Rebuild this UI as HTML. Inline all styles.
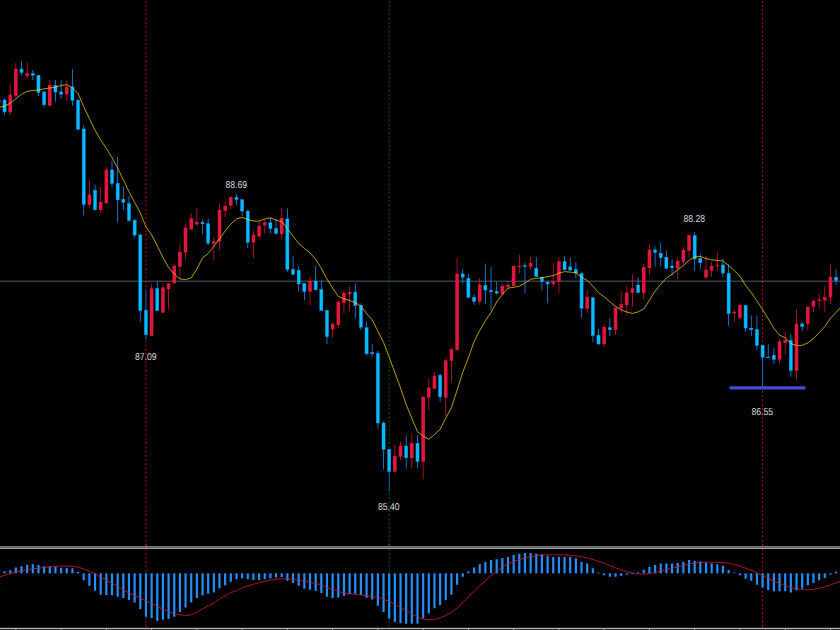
<!DOCTYPE html>
<html><head><meta charset="utf-8"><title>Chart</title>
<style>html,body{margin:0;padding:0;background:#000;width:840px;height:630px;overflow:hidden}svg{display:block}</style>
</head><body>
<svg width="840" height="630" viewBox="0 0 840 630"><rect x="0" y="280.5" width="840" height="1.5" fill="#353d46"/>
<text x="225.55" y="188" textLength="21.6" lengthAdjust="spacingAndGlyphs" text-rendering="geometricPrecision" font-family="Liberation Sans, sans-serif" font-size="10" fill="#dcdcdc">88.69</text>
<text x="134.9" y="360" textLength="21.6" lengthAdjust="spacingAndGlyphs" text-rendering="geometricPrecision" font-family="Liberation Sans, sans-serif" font-size="10" fill="#dcdcdc">87.09</text>
<text x="378" y="510" textLength="21.6" lengthAdjust="spacingAndGlyphs" text-rendering="geometricPrecision" font-family="Liberation Sans, sans-serif" font-size="10" fill="#dcdcdc">85.40</text>
<text x="683.5" y="222" textLength="21.6" lengthAdjust="spacingAndGlyphs" text-rendering="geometricPrecision" font-family="Liberation Sans, sans-serif" font-size="10" fill="#dcdcdc">88.28</text>
<text x="751.4" y="415" textLength="21.6" lengthAdjust="spacingAndGlyphs" text-rendering="geometricPrecision" font-family="Liberation Sans, sans-serif" font-size="10" fill="#dcdcdc">86.55</text>
<line x1="145.96" y1="-3.54" x2="145.96" y2="289.7" stroke="#ff0000" stroke-width="0.75" stroke-dasharray="2.1213 2.1213" stroke-dashoffset="0"/><line x1="145.96" y1="339.2" x2="145.96" y2="546" stroke="#ff0000" stroke-width="0.75" stroke-dasharray="2.1213 2.1213" stroke-dashoffset="3.33"/><line x1="145.96" y1="544.26" x2="145.96" y2="627.6" stroke="#ff0000" stroke-width="0.75" stroke-dasharray="2.1213 2.1213" stroke-dashoffset="0"/>
<line x1="389.21" y1="-3.54" x2="389.21" y2="449" stroke="#008000" stroke-width="0.75" stroke-dasharray="2.1213 2.1213" stroke-dashoffset="0"/><line x1="389.21" y1="491.3" x2="389.21" y2="546" stroke="#008000" stroke-width="0.75" stroke-dasharray="2.1213 2.1213" stroke-dashoffset="2.69"/><line x1="389.21" y1="544.26" x2="389.21" y2="627.6" stroke="#008000" stroke-width="0.75" stroke-dasharray="2.1213 2.1213" stroke-dashoffset="0"/>
<line x1="762.57" y1="-3.54" x2="762.57" y2="344.7" stroke="#ff0000" stroke-width="0.75" stroke-dasharray="2.1213 2.1213" stroke-dashoffset="0"/><line x1="762.57" y1="386.3" x2="762.57" y2="546" stroke="#ff0000" stroke-width="0.75" stroke-dasharray="2.1213 2.1213" stroke-dashoffset="3.76"/><line x1="762.57" y1="544.26" x2="762.57" y2="627.6" stroke="#ff0000" stroke-width="0.75" stroke-dasharray="2.1213 2.1213" stroke-dashoffset="0"/>
<rect x="-1.5" y="97.5" width="0.75" height="7" fill="#dc143c"/>
<rect x="4.16" y="98.3" width="0.75" height="16.5" fill="#1e90ff"/>
<rect x="9.81" y="83.3" width="0.75" height="31.8" fill="#dc143c"/>
<rect x="15.47" y="62.8" width="0.75" height="34.7" fill="#dc143c"/>
<rect x="21.13" y="61.1" width="0.75" height="14.5" fill="#1e90ff"/>
<rect x="26.78" y="62.8" width="0.75" height="16.1" fill="#dc143c"/>
<rect x="32.44" y="70" width="0.75" height="10" fill="#1e90ff"/>
<rect x="38.1" y="75" width="0.75" height="21.1" fill="#1e90ff"/>
<rect x="43.75" y="91" width="0.75" height="16.2" fill="#1e90ff"/>
<rect x="49.41" y="80" width="0.75" height="26.7" fill="#dc143c"/>
<rect x="55.07" y="80" width="0.75" height="21.7" fill="#1e90ff"/>
<rect x="60.73" y="80.6" width="0.75" height="18.3" fill="#1e90ff"/>
<rect x="66.38" y="80.6" width="0.75" height="20" fill="#dc143c"/>
<rect x="72.04" y="68.9" width="0.75" height="36.9" fill="#1e90ff"/>
<rect x="77.7" y="98.3" width="0.75" height="31.2" fill="#1e90ff"/>
<rect x="83.35" y="125.3" width="0.75" height="90" fill="#1e90ff"/>
<rect x="89.01" y="179.5" width="0.75" height="28.8" fill="#dc143c"/>
<rect x="94.67" y="184.5" width="0.75" height="26" fill="#1e90ff"/>
<rect x="100.32" y="187" width="0.75" height="25.5" fill="#dc143c"/>
<rect x="105.98" y="167" width="0.75" height="37.2" fill="#dc143c"/>
<rect x="111.64" y="160.8" width="0.75" height="25.9" fill="#1e90ff"/>
<rect x="117.3" y="157" width="0.75" height="65.5" fill="#1e90ff"/>
<rect x="122.95" y="186.5" width="0.75" height="23.5" fill="#1e90ff"/>
<rect x="128.61" y="195.8" width="0.75" height="25.7" fill="#1e90ff"/>
<rect x="134.27" y="219" width="0.75" height="18.5" fill="#1e90ff"/>
<rect x="139.92" y="234" width="0.75" height="87.7" fill="#1e90ff"/>
<rect x="145.58" y="289.7" width="0.75" height="49.5" fill="#1e90ff"/>
<rect x="151.24" y="284.2" width="0.75" height="51.8" fill="#dc143c"/>
<rect x="156.89" y="281.2" width="0.75" height="29.8" fill="#1e90ff"/>
<rect x="162.55" y="283.3" width="0.75" height="29.7" fill="#dc143c"/>
<rect x="168.21" y="283" width="0.75" height="26.7" fill="#dc143c"/>
<rect x="173.87" y="263.3" width="0.75" height="20.7" fill="#dc143c"/>
<rect x="179.52" y="243.3" width="0.75" height="35.9" fill="#dc143c"/>
<rect x="185.18" y="223.7" width="0.75" height="35.5" fill="#dc143c"/>
<rect x="190.84" y="213.3" width="0.75" height="16.7" fill="#dc143c"/>
<rect x="196.49" y="208" width="0.75" height="17.8" fill="#dc143c"/>
<rect x="202.15" y="219.2" width="0.75" height="14.8" fill="#1e90ff"/>
<rect x="207.81" y="218.5" width="0.75" height="26.2" fill="#1e90ff"/>
<rect x="213.46" y="237" width="0.75" height="23" fill="#dc143c"/>
<rect x="219.12" y="203.7" width="0.75" height="46" fill="#dc143c"/>
<rect x="224.78" y="201.3" width="0.75" height="15.7" fill="#dc143c"/>
<rect x="230.44" y="197" width="0.75" height="12.2" fill="#dc143c"/>
<rect x="236.09" y="194.2" width="0.75" height="10.8" fill="#1e90ff"/>
<rect x="241.75" y="199.2" width="0.75" height="17.1" fill="#1e90ff"/>
<rect x="247.41" y="210.3" width="0.75" height="37.7" fill="#1e90ff"/>
<rect x="253.06" y="230.8" width="0.75" height="27.2" fill="#dc143c"/>
<rect x="258.72" y="221.7" width="0.75" height="15.8" fill="#dc143c"/>
<rect x="264.38" y="220" width="0.75" height="13.3" fill="#dc143c"/>
<rect x="270.03" y="217.5" width="0.75" height="15.8" fill="#1e90ff"/>
<rect x="275.69" y="218.7" width="0.75" height="15.3" fill="#1e90ff"/>
<rect x="281.35" y="208" width="0.75" height="31.7" fill="#dc143c"/>
<rect x="287" y="208.7" width="0.75" height="63" fill="#1e90ff"/>
<rect x="292.66" y="256.3" width="0.75" height="18.7" fill="#1e90ff"/>
<rect x="298.32" y="266" width="0.75" height="25.3" fill="#1e90ff"/>
<rect x="303.98" y="283" width="0.75" height="17.3" fill="#1e90ff"/>
<rect x="309.63" y="276.7" width="0.75" height="28.3" fill="#dc143c"/>
<rect x="315.29" y="266.1" width="0.75" height="24.2" fill="#1e90ff"/>
<rect x="320.95" y="280.3" width="0.75" height="30.7" fill="#1e90ff"/>
<rect x="326.6" y="309.7" width="0.75" height="34.5" fill="#1e90ff"/>
<rect x="332.26" y="322" width="0.75" height="15.5" fill="#dc143c"/>
<rect x="337.92" y="300.3" width="0.75" height="28" fill="#dc143c"/>
<rect x="343.57" y="290.3" width="0.75" height="23.4" fill="#dc143c"/>
<rect x="349.23" y="286.7" width="0.75" height="24.1" fill="#dc143c"/>
<rect x="354.89" y="283.3" width="0.75" height="34.7" fill="#1e90ff"/>
<rect x="360.55" y="303.3" width="0.75" height="26.7" fill="#1e90ff"/>
<rect x="366.2" y="321.7" width="0.75" height="33.3" fill="#1e90ff"/>
<rect x="371.86" y="344.2" width="0.75" height="12.5" fill="#1e90ff"/>
<rect x="377.52" y="350.8" width="0.75" height="77.9" fill="#1e90ff"/>
<rect x="383.17" y="421.5" width="0.75" height="47.7" fill="#1e90ff"/>
<rect x="388.83" y="449" width="0.75" height="42.3" fill="#1e90ff"/>
<rect x="394.49" y="444.7" width="0.75" height="27.3" fill="#dc143c"/>
<rect x="400.14" y="442" width="0.75" height="18" fill="#dc143c"/>
<rect x="405.8" y="435.3" width="0.75" height="33.4" fill="#1e90ff"/>
<rect x="411.46" y="433.3" width="0.75" height="34.7" fill="#dc143c"/>
<rect x="417.12" y="435" width="0.75" height="33" fill="#1e90ff"/>
<rect x="422.77" y="396.5" width="0.75" height="82.7" fill="#dc143c"/>
<rect x="428.43" y="378.3" width="0.75" height="31.7" fill="#dc143c"/>
<rect x="434.09" y="371.7" width="0.75" height="17.3" fill="#dc143c"/>
<rect x="439.74" y="373.3" width="0.75" height="28.4" fill="#1e90ff"/>
<rect x="445.4" y="358.7" width="0.75" height="57.1" fill="#dc143c"/>
<rect x="451.06" y="348" width="0.75" height="34.5" fill="#dc143c"/>
<rect x="456.71" y="258" width="0.75" height="92.5" fill="#dc143c"/>
<rect x="462.37" y="268.7" width="0.75" height="15" fill="#1e90ff"/>
<rect x="468.03" y="273.7" width="0.75" height="24.3" fill="#1e90ff"/>
<rect x="473.69" y="294.2" width="0.75" height="10.5" fill="#1e90ff"/>
<rect x="479.34" y="278" width="0.75" height="26.7" fill="#dc143c"/>
<rect x="485" y="263.7" width="0.75" height="40.5" fill="#1e90ff"/>
<rect x="490.66" y="267" width="0.75" height="43" fill="#1e90ff"/>
<rect x="496.31" y="282" width="0.75" height="12.7" fill="#1e90ff"/>
<rect x="501.97" y="283.7" width="0.75" height="11.3" fill="#dc143c"/>
<rect x="507.63" y="281.3" width="0.75" height="7.4" fill="#dc143c"/>
<rect x="513.28" y="265.8" width="0.75" height="20.9" fill="#dc143c"/>
<rect x="518.94" y="254.7" width="0.75" height="18.6" fill="#dc143c"/>
<rect x="524.6" y="263" width="0.75" height="30.3" fill="#1e90ff"/>
<rect x="530.26" y="256.7" width="0.75" height="13.3" fill="#dc143c"/>
<rect x="535.91" y="257" width="0.75" height="20" fill="#1e90ff"/>
<rect x="541.57" y="276.5" width="0.75" height="14.3" fill="#1e90ff"/>
<rect x="547.23" y="281.3" width="0.75" height="22" fill="#1e90ff"/>
<rect x="552.88" y="263" width="0.75" height="23.7" fill="#dc143c"/>
<rect x="558.54" y="256.7" width="0.75" height="36.6" fill="#dc143c"/>
<rect x="564.2" y="256.3" width="0.75" height="14.2" fill="#1e90ff"/>
<rect x="569.86" y="258" width="0.75" height="12.5" fill="#1e90ff"/>
<rect x="575.51" y="262" width="0.75" height="16.3" fill="#1e90ff"/>
<rect x="581.17" y="272.5" width="0.75" height="45.5" fill="#1e90ff"/>
<rect x="586.83" y="290" width="0.75" height="23" fill="#dc143c"/>
<rect x="592.48" y="297" width="0.75" height="45" fill="#1e90ff"/>
<rect x="598.14" y="329.2" width="0.75" height="15.5" fill="#1e90ff"/>
<rect x="603.8" y="324.7" width="0.75" height="22.3" fill="#dc143c"/>
<rect x="609.45" y="318" width="0.75" height="18.3" fill="#1e90ff"/>
<rect x="615.11" y="307.5" width="0.75" height="27.5" fill="#dc143c"/>
<rect x="620.77" y="291.3" width="0.75" height="21.7" fill="#dc143c"/>
<rect x="626.42" y="285.5" width="0.75" height="30.3" fill="#dc143c"/>
<rect x="632.08" y="274.2" width="0.75" height="32.5" fill="#dc143c"/>
<rect x="637.74" y="277" width="0.75" height="16" fill="#1e90ff"/>
<rect x="643.4" y="264.2" width="0.75" height="35.5" fill="#dc143c"/>
<rect x="649.05" y="244.2" width="0.75" height="30.8" fill="#dc143c"/>
<rect x="654.71" y="246.7" width="0.75" height="20" fill="#1e90ff"/>
<rect x="660.37" y="243" width="0.75" height="23.7" fill="#1e90ff"/>
<rect x="666.02" y="250.8" width="0.75" height="18.2" fill="#1e90ff"/>
<rect x="671.68" y="259.2" width="0.75" height="16.6" fill="#1e90ff"/>
<rect x="677.34" y="257.5" width="0.75" height="21.7" fill="#dc143c"/>
<rect x="683" y="246.7" width="0.75" height="17.5" fill="#dc143c"/>
<rect x="688.65" y="234.5" width="0.75" height="22.5" fill="#dc143c"/>
<rect x="694.31" y="231.8" width="0.75" height="39.5" fill="#1e90ff"/>
<rect x="699.97" y="254" width="0.75" height="15.2" fill="#1e90ff"/>
<rect x="705.62" y="255.8" width="0.75" height="22.5" fill="#dc143c"/>
<rect x="711.28" y="261.7" width="0.75" height="15" fill="#dc143c"/>
<rect x="716.94" y="252.5" width="0.75" height="18.3" fill="#dc143c"/>
<rect x="722.59" y="258.3" width="0.75" height="18.7" fill="#1e90ff"/>
<rect x="728.25" y="264.2" width="0.75" height="61.6" fill="#1e90ff"/>
<rect x="733.91" y="309.7" width="0.75" height="12" fill="#dc143c"/>
<rect x="739.56" y="303.3" width="0.75" height="16.4" fill="#dc143c"/>
<rect x="745.22" y="304.8" width="0.75" height="26.9" fill="#1e90ff"/>
<rect x="750.88" y="315.3" width="0.75" height="21" fill="#1e90ff"/>
<rect x="756.54" y="315.3" width="0.75" height="34.4" fill="#1e90ff"/>
<rect x="762.19" y="344.7" width="0.75" height="41.6" fill="#1e90ff"/>
<rect x="767.85" y="344.2" width="0.75" height="14.1" fill="#1e90ff"/>
<rect x="773.51" y="348" width="0.75" height="15.7" fill="#1e90ff"/>
<rect x="779.16" y="338.3" width="0.75" height="25.4" fill="#dc143c"/>
<rect x="784.82" y="332" width="0.75" height="22.7" fill="#dc143c"/>
<rect x="790.48" y="334.2" width="0.75" height="42.5" fill="#1e90ff"/>
<rect x="796.13" y="309.2" width="0.75" height="70.5" fill="#dc143c"/>
<rect x="801.79" y="321.7" width="0.75" height="9.1" fill="#1e90ff"/>
<rect x="807.45" y="306.5" width="0.75" height="23.5" fill="#dc143c"/>
<rect x="813.11" y="299.2" width="0.75" height="13.1" fill="#dc143c"/>
<rect x="818.76" y="293" width="0.75" height="15.3" fill="#dc143c"/>
<rect x="824.42" y="286.3" width="0.75" height="25.4" fill="#dc143c"/>
<rect x="830.08" y="264.2" width="0.75" height="39.8" fill="#dc143c"/>
<rect x="835.73" y="269.2" width="0.75" height="15.5" fill="#1e90ff"/>
<rect x="-2.9" y="99.5" width="3.54" height="3.4" fill="#e0163e"/>
<rect x="2.96" y="100" width="3.14" height="11.9" fill="#00bfff" stroke="#1e90ff" stroke-width="0.4"/>
<rect x="8.42" y="94.6" width="3.54" height="17.7" fill="#e0163e"/>
<rect x="14.07" y="68.9" width="3.54" height="26.9" fill="#e0163e"/>
<rect x="19.93" y="69.1" width="3.14" height="3.5" fill="#00bfff" stroke="#1e90ff" stroke-width="0.4"/>
<rect x="25.39" y="73.3" width="3.54" height="2.8" fill="#e0163e"/>
<rect x="31.24" y="73.5" width="3.14" height="1.9" fill="#00bfff" stroke="#1e90ff" stroke-width="0.4"/>
<rect x="36.9" y="75.2" width="3.14" height="17.4" fill="#00bfff" stroke="#1e90ff" stroke-width="0.4"/>
<rect x="42.56" y="91.9" width="3.14" height="12.9" fill="#00bfff" stroke="#1e90ff" stroke-width="0.4"/>
<rect x="48.02" y="85" width="3.54" height="20.6" fill="#e0163e"/>
<rect x="53.87" y="85.2" width="3.14" height="6.8" fill="#00bfff" stroke="#1e90ff" stroke-width="0.4"/>
<rect x="59.53" y="91.9" width="3.14" height="2.3" fill="#00bfff" stroke="#1e90ff" stroke-width="0.4"/>
<rect x="64.99" y="86.7" width="3.54" height="7.7" fill="#e0163e"/>
<rect x="70.84" y="86.9" width="3.14" height="13.5" fill="#00bfff" stroke="#1e90ff" stroke-width="0.4"/>
<rect x="76.5" y="100.2" width="3.14" height="29.1" fill="#00bfff" stroke="#1e90ff" stroke-width="0.4"/>
<rect x="82.16" y="128.9" width="3.14" height="75.6" fill="#00bfff" stroke="#1e90ff" stroke-width="0.4"/>
<rect x="87.62" y="194.5" width="3.54" height="10.2" fill="#e0163e"/>
<rect x="93.47" y="190.2" width="3.14" height="19.6" fill="#00bfff" stroke="#1e90ff" stroke-width="0.4"/>
<rect x="98.93" y="202" width="3.54" height="8" fill="#e0163e"/>
<rect x="104.59" y="169.7" width="3.54" height="33.3" fill="#e0163e"/>
<rect x="110.44" y="169.9" width="3.14" height="13.6" fill="#00bfff" stroke="#1e90ff" stroke-width="0.4"/>
<rect x="116.1" y="183.2" width="3.14" height="16.6" fill="#00bfff" stroke="#1e90ff" stroke-width="0.4"/>
<rect x="121.76" y="199.4" width="3.14" height="2.9" fill="#00bfff" stroke="#1e90ff" stroke-width="0.4"/>
<rect x="127.41" y="203.5" width="3.14" height="17.1" fill="#00bfff" stroke="#1e90ff" stroke-width="0.4"/>
<rect x="133.07" y="220.2" width="3.14" height="14.9" fill="#00bfff" stroke="#1e90ff" stroke-width="0.4"/>
<rect x="138.73" y="234.9" width="3.14" height="75.7" fill="#00bfff" stroke="#1e90ff" stroke-width="0.4"/>
<rect x="144.38" y="310.2" width="3.14" height="24.6" fill="#00bfff" stroke="#1e90ff" stroke-width="0.4"/>
<rect x="149.84" y="288.3" width="3.54" height="47.5" fill="#e0163e"/>
<rect x="155.7" y="288.5" width="3.14" height="22.1" fill="#00bfff" stroke="#1e90ff" stroke-width="0.4"/>
<rect x="161.16" y="287.5" width="3.54" height="25" fill="#e0163e"/>
<rect x="166.81" y="283.3" width="3.54" height="5.9" fill="#e0163e"/>
<rect x="172.47" y="265.8" width="3.54" height="17.5" fill="#e0163e"/>
<rect x="178.13" y="251.7" width="3.54" height="15" fill="#e0163e"/>
<rect x="183.78" y="227.5" width="3.54" height="25" fill="#e0163e"/>
<rect x="189.44" y="218.3" width="3.54" height="10.9" fill="#e0163e"/>
<rect x="195.1" y="222" width="3.54" height="2.2" fill="#e0163e"/>
<rect x="200.95" y="222.2" width="3.14" height="1.6" fill="#00bfff" stroke="#1e90ff" stroke-width="0.4"/>
<rect x="206.61" y="223.7" width="3.14" height="19.6" fill="#00bfff" stroke="#1e90ff" stroke-width="0.4"/>
<rect x="212.07" y="241.2" width="3.54" height="2.5" fill="#e0163e"/>
<rect x="217.73" y="210" width="3.54" height="31.7" fill="#e0163e"/>
<rect x="223.38" y="205.8" width="3.54" height="5" fill="#e0163e"/>
<rect x="229.04" y="197" width="3.54" height="8.8" fill="#e0163e"/>
<rect x="234.9" y="197.4" width="3.14" height="2.1" fill="#00bfff" stroke="#1e90ff" stroke-width="0.4"/>
<rect x="240.55" y="199.7" width="3.14" height="11.3" fill="#00bfff" stroke="#1e90ff" stroke-width="0.4"/>
<rect x="246.21" y="211" width="3.14" height="31.3" fill="#00bfff" stroke="#1e90ff" stroke-width="0.4"/>
<rect x="251.67" y="234.7" width="3.54" height="7.8" fill="#e0163e"/>
<rect x="257.32" y="225.8" width="3.54" height="10.5" fill="#e0163e"/>
<rect x="262.98" y="222.5" width="3.54" height="2.8" fill="#e0163e"/>
<rect x="268.84" y="222.7" width="3.14" height="5.8" fill="#00bfff" stroke="#1e90ff" stroke-width="0.4"/>
<rect x="274.5" y="228.5" width="3.14" height="5" fill="#00bfff" stroke="#1e90ff" stroke-width="0.4"/>
<rect x="279.95" y="218" width="3.54" height="16.2" fill="#e0163e"/>
<rect x="285.81" y="218.9" width="3.14" height="50.6" fill="#00bfff" stroke="#1e90ff" stroke-width="0.4"/>
<rect x="291.47" y="269.4" width="3.14" height="4.9" fill="#00bfff" stroke="#1e90ff" stroke-width="0.4"/>
<rect x="297.12" y="270.2" width="3.14" height="13.8" fill="#00bfff" stroke="#1e90ff" stroke-width="0.4"/>
<rect x="302.78" y="283.5" width="3.14" height="8" fill="#00bfff" stroke="#1e90ff" stroke-width="0.4"/>
<rect x="308.24" y="280.8" width="3.54" height="10.9" fill="#e0163e"/>
<rect x="314.09" y="281" width="3.14" height="8.8" fill="#00bfff" stroke="#1e90ff" stroke-width="0.4"/>
<rect x="319.75" y="289.4" width="3.14" height="21.2" fill="#00bfff" stroke="#1e90ff" stroke-width="0.4"/>
<rect x="325.41" y="310.2" width="3.14" height="26.3" fill="#00bfff" stroke="#1e90ff" stroke-width="0.4"/>
<rect x="330.87" y="323.7" width="3.54" height="5.5" fill="#e0163e"/>
<rect x="336.52" y="301.7" width="3.54" height="23.3" fill="#e0163e"/>
<rect x="342.18" y="293" width="3.54" height="10" fill="#e0163e"/>
<rect x="347.84" y="292" width="3.54" height="2.2" fill="#e0163e"/>
<rect x="353.69" y="292.2" width="3.14" height="13.4" fill="#00bfff" stroke="#1e90ff" stroke-width="0.4"/>
<rect x="359.35" y="305.2" width="3.14" height="22.1" fill="#00bfff" stroke="#1e90ff" stroke-width="0.4"/>
<rect x="365.01" y="327.7" width="3.14" height="26.1" fill="#00bfff" stroke="#1e90ff" stroke-width="0.4"/>
<rect x="370.66" y="352.7" width="3.14" height="1.1" fill="#00bfff" stroke="#1e90ff" stroke-width="0.4"/>
<rect x="376.32" y="353.4" width="3.14" height="69.6" fill="#00bfff" stroke="#1e90ff" stroke-width="0.4"/>
<rect x="381.98" y="423" width="3.14" height="26.5" fill="#00bfff" stroke="#1e90ff" stroke-width="0.4"/>
<rect x="387.64" y="449.4" width="3.14" height="22.1" fill="#00bfff" stroke="#1e90ff" stroke-width="0.4"/>
<rect x="393.09" y="455.8" width="3.54" height="15.9" fill="#e0163e"/>
<rect x="398.75" y="445.8" width="3.54" height="10.9" fill="#e0163e"/>
<rect x="404.61" y="446" width="3.14" height="11.8" fill="#00bfff" stroke="#1e90ff" stroke-width="0.4"/>
<rect x="410.06" y="443" width="3.54" height="15" fill="#e0163e"/>
<rect x="415.92" y="443.2" width="3.14" height="18.3" fill="#00bfff" stroke="#1e90ff" stroke-width="0.4"/>
<rect x="421.38" y="396.7" width="3.54" height="65" fill="#e0163e"/>
<rect x="427.03" y="387.5" width="3.54" height="10" fill="#e0163e"/>
<rect x="432.69" y="375.8" width="3.54" height="12.9" fill="#e0163e"/>
<rect x="438.55" y="375.2" width="3.14" height="21.6" fill="#00bfff" stroke="#1e90ff" stroke-width="0.4"/>
<rect x="444.01" y="360.3" width="3.54" height="37.2" fill="#e0163e"/>
<rect x="449.66" y="349.2" width="3.54" height="11.6" fill="#e0163e"/>
<rect x="455.32" y="273.7" width="3.54" height="76.3" fill="#e0163e"/>
<rect x="461.18" y="273.9" width="3.14" height="3.4" fill="#00bfff" stroke="#1e90ff" stroke-width="0.4"/>
<rect x="466.83" y="278.2" width="3.14" height="19.1" fill="#00bfff" stroke="#1e90ff" stroke-width="0.4"/>
<rect x="472.49" y="297.2" width="3.14" height="4.3" fill="#00bfff" stroke="#1e90ff" stroke-width="0.4"/>
<rect x="477.95" y="284.7" width="3.54" height="17" fill="#e0163e"/>
<rect x="483.81" y="285.2" width="3.14" height="4.9" fill="#00bfff" stroke="#1e90ff" stroke-width="0.4"/>
<rect x="489.46" y="290.5" width="3.14" height="1.3" fill="#00bfff" stroke="#1e90ff" stroke-width="0.4"/>
<rect x="495.12" y="291.5" width="3.14" height="1.6" fill="#00bfff" stroke="#1e90ff" stroke-width="0.4"/>
<rect x="500.58" y="285.8" width="3.54" height="8.4" fill="#e0163e"/>
<rect x="506.23" y="284.7" width="3.54" height="2.3" fill="#e0163e"/>
<rect x="511.89" y="265.8" width="3.54" height="20" fill="#e0163e"/>
<rect x="517.55" y="265.8" width="3.54" height="1.2" fill="#e0163e"/>
<rect x="523.4" y="265.5" width="3.14" height="1" fill="#00bfff" stroke="#1e90ff" stroke-width="0.4"/>
<rect x="528.86" y="263" width="3.54" height="3.7" fill="#e0163e"/>
<rect x="534.72" y="268.2" width="3.14" height="8.3" fill="#00bfff" stroke="#1e90ff" stroke-width="0.4"/>
<rect x="540.38" y="277.2" width="3.14" height="4.3" fill="#00bfff" stroke="#1e90ff" stroke-width="0.4"/>
<rect x="546.03" y="282.2" width="3.14" height="1.8" fill="#00bfff" stroke="#1e90ff" stroke-width="0.4"/>
<rect x="551.49" y="281.3" width="3.54" height="2.9" fill="#e0163e"/>
<rect x="557.15" y="261.3" width="3.54" height="20.4" fill="#e0163e"/>
<rect x="563" y="261.5" width="3.14" height="8.3" fill="#00bfff" stroke="#1e90ff" stroke-width="0.4"/>
<rect x="568.66" y="266.9" width="3.14" height="3.2" fill="#00bfff" stroke="#1e90ff" stroke-width="0.4"/>
<rect x="574.32" y="269.4" width="3.14" height="3.7" fill="#00bfff" stroke="#1e90ff" stroke-width="0.4"/>
<rect x="579.97" y="273.5" width="3.14" height="34.8" fill="#00bfff" stroke="#1e90ff" stroke-width="0.4"/>
<rect x="585.43" y="296.8" width="3.54" height="11.9" fill="#e0163e"/>
<rect x="591.29" y="297.7" width="3.14" height="37.9" fill="#00bfff" stroke="#1e90ff" stroke-width="0.4"/>
<rect x="596.95" y="335.2" width="3.14" height="8.8" fill="#00bfff" stroke="#1e90ff" stroke-width="0.4"/>
<rect x="602.4" y="327" width="3.54" height="17.2" fill="#e0163e"/>
<rect x="608.26" y="327.7" width="3.14" height="2.1" fill="#00bfff" stroke="#1e90ff" stroke-width="0.4"/>
<rect x="613.72" y="307.5" width="3.54" height="22.5" fill="#e0163e"/>
<rect x="619.37" y="304.2" width="3.54" height="4" fill="#e0163e"/>
<rect x="625.03" y="292.5" width="3.54" height="12.5" fill="#e0163e"/>
<rect x="630.69" y="288.2" width="3.54" height="4.6" fill="#e0163e"/>
<rect x="636.54" y="285" width="3.14" height="7.6" fill="#00bfff" stroke="#1e90ff" stroke-width="0.4"/>
<rect x="642" y="267" width="3.54" height="26.2" fill="#e0163e"/>
<rect x="647.66" y="249.7" width="3.54" height="18.3" fill="#e0163e"/>
<rect x="653.51" y="249.9" width="3.14" height="2.4" fill="#00bfff" stroke="#1e90ff" stroke-width="0.4"/>
<rect x="659.17" y="253.2" width="3.14" height="4.6" fill="#00bfff" stroke="#1e90ff" stroke-width="0.4"/>
<rect x="664.83" y="257.2" width="3.14" height="11.3" fill="#00bfff" stroke="#1e90ff" stroke-width="0.4"/>
<rect x="670.49" y="266" width="3.14" height="1.8" fill="#00bfff" stroke="#1e90ff" stroke-width="0.4"/>
<rect x="675.94" y="260.8" width="3.54" height="7.5" fill="#e0163e"/>
<rect x="681.6" y="250" width="3.54" height="11.7" fill="#e0163e"/>
<rect x="687.26" y="235" width="3.54" height="15.8" fill="#e0163e"/>
<rect x="693.11" y="235.5" width="3.14" height="23.5" fill="#00bfff" stroke="#1e90ff" stroke-width="0.4"/>
<rect x="698.77" y="258.7" width="3.14" height="4.1" fill="#00bfff" stroke="#1e90ff" stroke-width="0.4"/>
<rect x="704.23" y="269.7" width="3.54" height="7.8" fill="#e0163e"/>
<rect x="709.88" y="265.8" width="3.54" height="5" fill="#e0163e"/>
<rect x="715.54" y="264.7" width="3.54" height="1.1" fill="#e0163e"/>
<rect x="721.4" y="264.9" width="3.14" height="8.2" fill="#00bfff" stroke="#1e90ff" stroke-width="0.4"/>
<rect x="727.06" y="273.2" width="3.14" height="40.4" fill="#00bfff" stroke="#1e90ff" stroke-width="0.4"/>
<rect x="732.51" y="311.8" width="3.54" height="1.4" fill="#e0163e"/>
<rect x="738.17" y="305" width="3.54" height="12.8" fill="#e0163e"/>
<rect x="744.03" y="305.5" width="3.14" height="22.6" fill="#00bfff" stroke="#1e90ff" stroke-width="0.4"/>
<rect x="749.68" y="328.2" width="3.14" height="1.6" fill="#00bfff" stroke="#1e90ff" stroke-width="0.4"/>
<rect x="755.34" y="329.4" width="3.14" height="16.2" fill="#00bfff" stroke="#1e90ff" stroke-width="0.4"/>
<rect x="761" y="345.2" width="3.14" height="12.1" fill="#00bfff" stroke="#1e90ff" stroke-width="0.4"/>
<rect x="766.66" y="357.2" width="3.14" height="0.6" fill="#00bfff" stroke="#1e90ff" stroke-width="0.4"/>
<rect x="772.31" y="355.2" width="3.14" height="4.3" fill="#00bfff" stroke="#1e90ff" stroke-width="0.4"/>
<rect x="777.77" y="341.3" width="3.54" height="18.4" fill="#e0163e"/>
<rect x="783.43" y="339.7" width="3.54" height="3.3" fill="#e0163e"/>
<rect x="789.28" y="340.2" width="3.14" height="30.4" fill="#00bfff" stroke="#1e90ff" stroke-width="0.4"/>
<rect x="794.74" y="323.7" width="3.54" height="47.1" fill="#e0163e"/>
<rect x="800.6" y="323.9" width="3.14" height="2.6" fill="#00bfff" stroke="#1e90ff" stroke-width="0.4"/>
<rect x="806.05" y="306.7" width="3.54" height="17" fill="#e0163e"/>
<rect x="811.71" y="300.8" width="3.54" height="5.9" fill="#e0163e"/>
<rect x="817.37" y="299.7" width="3.54" height="1.3" fill="#e0163e"/>
<rect x="823.02" y="297" width="3.54" height="3.5" fill="#e0163e"/>
<rect x="828.68" y="277" width="3.54" height="20.3" fill="#e0163e"/>
<rect x="834.54" y="277.2" width="3.14" height="3.4" fill="#00bfff" stroke="#1e90ff" stroke-width="0.4"/>
<polyline points="-6.78,109 -1.13,107.4 4.53,106.06 10.19,103.26 15.84,98.75 21.5,94.27 27.16,91.39 32.81,90.44 38.47,89.92 44.13,88.93 49.79,87.96 55.44,87.23 61.1,85.46 66.76,84.67 72.41,87.84 78.07,93.51 83.73,106.65 89.39,118.54 95.04,130.26 100.7,139.96 106.36,148.43 112.01,157.58 117.67,168.14 123.33,179.72 128.98,191.74 134.64,202.32 140.3,212.93 145.96,226.98 151.61,234.81 157.27,245.69 162.93,257.47 168.58,267.43 174.24,274.01 179.9,278.93 185.55,279.6 191.21,277.9 196.87,269.02 202.53,257.92 208.18,253.44 213.84,246.48 219.5,238.73 225.15,230.98 230.81,224.1 236.47,218.9 242.12,217.27 247.78,219.69 253.44,220.96 259.09,221.14 264.75,219.04 270.41,217.79 276.07,220.16 281.72,221.38 287.38,228.65 293.04,236.13 298.69,243.43 304.35,248.35 310.01,252.96 315.66,259.38 321.32,268.21 326.98,279.01 332.64,288.01 338.29,296.38 343.95,298.71 349.61,300.46 355.26,302.62 360.92,306.2 366.58,313.52 372.23,319.92 377.89,331.16 383.55,342.46 389.21,357.26 394.86,372.67 400.52,387.95 406.18,404.55 411.83,418.27 417.49,431.69 423.15,435.96 428.8,439.31 434.46,434.57 440.12,429.3 445.78,418.16 451.43,407.5 457.09,390.29 462.75,372.24 468.4,357.69 474.06,341.69 479.72,330.49 485.38,320.77 491.03,312.39 496.69,302.02 502.35,294.57 508,288.12 513.66,287.33 519.32,286.16 524.97,283.08 530.63,279.21 536.29,278.41 541.94,277.55 547.6,276.77 553.26,275.57 558.92,273.12 564.57,271.65 570.23,272.1 575.89,272.85 581.54,277.03 587.2,280.41 592.86,286.32 598.51,292.57 604.17,296.85 609.83,301.72 615.49,306.34 621.14,309.76 626.8,311.98 632.46,313.47 638.11,311.9 643.77,308.92 649.43,300.31 655.08,291.14 660.74,284.24 666.4,278.11 672.06,274.16 677.71,269.82 683.37,265.57 689.03,260.25 694.68,256.89 700.34,256.49 706,258.49 711.65,259.82 717.31,260.49 722.97,260.95 728.63,265.53 734.28,270.63 739.94,276.13 745.6,285.46 751.25,292.54 756.91,300.82 762.57,309.6 768.23,318.82 773.88,328.32 779.54,335.12 785.2,337.71 790.85,343.61 796.51,345.48 802.17,345.32 807.82,342.99 813.48,338.49 819.14,332.71 824.79,326.61 830.45,318.34 836.11,312.29 841.77,306.39" fill="none" stroke="#ffd700" stroke-width="0.72" stroke-linejoin="round"/>
<line x1="730.85" y1="387.85" x2="804.15" y2="387.85" stroke="#424cd4" stroke-width="3.3" stroke-linecap="round"/>
<rect x="0" y="546" width="840" height="1.4" fill="#7a7a7a"/>
<rect x="0" y="547.6" width="840" height="1.4" fill="#a2a2a2"/>
<rect x="-2.23" y="572.3" width="2.2" height="1" fill="#1e90ff"/>
<rect x="3.43" y="571.3" width="2.2" height="2" fill="#1e90ff"/>
<rect x="9.09" y="570.3" width="2.2" height="3" fill="#1e90ff"/>
<rect x="14.74" y="567.5" width="2.2" height="5.8" fill="#1e90ff"/>
<rect x="20.4" y="566.2" width="2.2" height="7.1" fill="#1e90ff"/>
<rect x="26.06" y="565" width="2.2" height="8.3" fill="#1e90ff"/>
<rect x="31.71" y="564.2" width="2.2" height="9.1" fill="#1e90ff"/>
<rect x="37.37" y="565" width="2.2" height="8.3" fill="#1e90ff"/>
<rect x="43.03" y="566.2" width="2.2" height="7.1" fill="#1e90ff"/>
<rect x="48.69" y="566.2" width="2.2" height="7.1" fill="#1e90ff"/>
<rect x="54.34" y="566.7" width="2.2" height="6.6" fill="#1e90ff"/>
<rect x="60" y="567.8" width="2.2" height="5.5" fill="#1e90ff"/>
<rect x="65.66" y="567.8" width="2.2" height="5.5" fill="#1e90ff"/>
<rect x="71.31" y="568.3" width="2.2" height="5" fill="#1e90ff"/>
<rect x="76.97" y="572" width="2.2" height="1.3" fill="#1e90ff"/>
<rect x="82.63" y="573.3" width="2.2" height="7" fill="#1e90ff"/>
<rect x="88.29" y="573.3" width="2.2" height="12.5" fill="#1e90ff"/>
<rect x="93.94" y="573.3" width="2.2" height="17.5" fill="#1e90ff"/>
<rect x="99.6" y="573.3" width="2.2" height="21.4" fill="#1e90ff"/>
<rect x="105.26" y="573.3" width="2.2" height="21.7" fill="#1e90ff"/>
<rect x="110.91" y="573.3" width="2.2" height="22" fill="#1e90ff"/>
<rect x="116.57" y="573.3" width="2.2" height="23.4" fill="#1e90ff"/>
<rect x="122.23" y="573.3" width="2.2" height="24.7" fill="#1e90ff"/>
<rect x="127.88" y="573.3" width="2.2" height="26.7" fill="#1e90ff"/>
<rect x="133.54" y="573.3" width="2.2" height="29.2" fill="#1e90ff"/>
<rect x="139.2" y="573.3" width="2.2" height="35.9" fill="#1e90ff"/>
<rect x="144.86" y="573.3" width="2.2" height="43.4" fill="#1e90ff"/>
<rect x="150.51" y="573.3" width="2.2" height="44.7" fill="#1e90ff"/>
<rect x="156.17" y="573.3" width="2.2" height="47.5" fill="#1e90ff"/>
<rect x="161.83" y="573.3" width="2.2" height="46.4" fill="#1e90ff"/>
<rect x="167.48" y="573.3" width="2.2" height="45.4" fill="#1e90ff"/>
<rect x="173.14" y="573.3" width="2.2" height="43.4" fill="#1e90ff"/>
<rect x="178.8" y="573.3" width="2.2" height="38.7" fill="#1e90ff"/>
<rect x="184.45" y="573.3" width="2.2" height="34.2" fill="#1e90ff"/>
<rect x="190.11" y="573.3" width="2.2" height="29.2" fill="#1e90ff"/>
<rect x="195.77" y="573.3" width="2.2" height="24.7" fill="#1e90ff"/>
<rect x="201.43" y="573.3" width="2.2" height="22" fill="#1e90ff"/>
<rect x="207.08" y="573.3" width="2.2" height="20.4" fill="#1e90ff"/>
<rect x="212.74" y="573.3" width="2.2" height="19.2" fill="#1e90ff"/>
<rect x="218.4" y="573.3" width="2.2" height="15" fill="#1e90ff"/>
<rect x="224.05" y="573.3" width="2.2" height="12" fill="#1e90ff"/>
<rect x="229.71" y="573.3" width="2.2" height="8.4" fill="#1e90ff"/>
<rect x="235.37" y="573.3" width="2.2" height="5.9" fill="#1e90ff"/>
<rect x="241.02" y="573.3" width="2.2" height="5" fill="#1e90ff"/>
<rect x="246.68" y="573.3" width="2.2" height="5.9" fill="#1e90ff"/>
<rect x="252.34" y="573.3" width="2.2" height="6.7" fill="#1e90ff"/>
<rect x="257.99" y="573.3" width="2.2" height="6.7" fill="#1e90ff"/>
<rect x="263.65" y="573.3" width="2.2" height="5.9" fill="#1e90ff"/>
<rect x="269.31" y="573.3" width="2.2" height="5.2" fill="#1e90ff"/>
<rect x="274.97" y="573.3" width="2.2" height="4.2" fill="#1e90ff"/>
<rect x="280.62" y="573.3" width="2.2" height="3.7" fill="#1e90ff"/>
<rect x="286.28" y="573.3" width="2.2" height="7.5" fill="#1e90ff"/>
<rect x="291.94" y="573.3" width="2.2" height="9.7" fill="#1e90ff"/>
<rect x="297.59" y="573.3" width="2.2" height="12.5" fill="#1e90ff"/>
<rect x="303.25" y="573.3" width="2.2" height="15.4" fill="#1e90ff"/>
<rect x="308.91" y="573.3" width="2.2" height="16.4" fill="#1e90ff"/>
<rect x="314.56" y="573.3" width="2.2" height="17.5" fill="#1e90ff"/>
<rect x="320.22" y="573.3" width="2.2" height="19.7" fill="#1e90ff"/>
<rect x="325.88" y="573.3" width="2.2" height="23.4" fill="#1e90ff"/>
<rect x="331.54" y="573.3" width="2.2" height="24.7" fill="#1e90ff"/>
<rect x="337.19" y="573.3" width="2.2" height="24.2" fill="#1e90ff"/>
<rect x="342.85" y="573.3" width="2.2" height="22.5" fill="#1e90ff"/>
<rect x="348.51" y="573.3" width="2.2" height="20.9" fill="#1e90ff"/>
<rect x="354.16" y="573.3" width="2.2" height="20.4" fill="#1e90ff"/>
<rect x="359.82" y="573.3" width="2.2" height="21.7" fill="#1e90ff"/>
<rect x="365.48" y="573.3" width="2.2" height="24.5" fill="#1e90ff"/>
<rect x="371.13" y="573.3" width="2.2" height="26.2" fill="#1e90ff"/>
<rect x="376.79" y="573.3" width="2.2" height="32.5" fill="#1e90ff"/>
<rect x="382.45" y="573.3" width="2.2" height="38.7" fill="#1e90ff"/>
<rect x="388.11" y="573.3" width="2.2" height="45.4" fill="#1e90ff"/>
<rect x="393.76" y="573.3" width="2.2" height="48.7" fill="#1e90ff"/>
<rect x="399.42" y="573.3" width="2.2" height="50" fill="#1e90ff"/>
<rect x="405.08" y="573.3" width="2.2" height="50.4" fill="#1e90ff"/>
<rect x="410.73" y="573.3" width="2.2" height="50.4" fill="#1e90ff"/>
<rect x="416.39" y="573.3" width="2.2" height="50.4" fill="#1e90ff"/>
<rect x="422.05" y="573.3" width="2.2" height="45" fill="#1e90ff"/>
<rect x="427.7" y="573.3" width="2.2" height="40" fill="#1e90ff"/>
<rect x="433.36" y="573.3" width="2.2" height="35" fill="#1e90ff"/>
<rect x="439.02" y="573.3" width="2.2" height="31.7" fill="#1e90ff"/>
<rect x="444.68" y="573.3" width="2.2" height="26.7" fill="#1e90ff"/>
<rect x="450.33" y="573.3" width="2.2" height="21.4" fill="#1e90ff"/>
<rect x="455.99" y="573.3" width="2.2" height="11.4" fill="#1e90ff"/>
<rect x="461.65" y="573.3" width="2.2" height="3.4" fill="#1e90ff"/>
<rect x="467.3" y="571.3" width="2.2" height="2" fill="#1e90ff"/>
<rect x="472.96" y="567.5" width="2.2" height="5.8" fill="#1e90ff"/>
<rect x="478.62" y="564.2" width="2.2" height="9.1" fill="#1e90ff"/>
<rect x="484.27" y="562" width="2.2" height="11.3" fill="#1e90ff"/>
<rect x="489.93" y="560" width="2.2" height="13.3" fill="#1e90ff"/>
<rect x="495.59" y="559.2" width="2.2" height="14.1" fill="#1e90ff"/>
<rect x="501.25" y="558" width="2.2" height="15.3" fill="#1e90ff"/>
<rect x="506.9" y="557" width="2.2" height="16.3" fill="#1e90ff"/>
<rect x="512.56" y="555" width="2.2" height="18.3" fill="#1e90ff"/>
<rect x="518.22" y="553.7" width="2.2" height="19.6" fill="#1e90ff"/>
<rect x="523.87" y="553" width="2.2" height="20.3" fill="#1e90ff"/>
<rect x="529.53" y="553" width="2.2" height="20.3" fill="#1e90ff"/>
<rect x="535.19" y="553.7" width="2.2" height="19.6" fill="#1e90ff"/>
<rect x="540.84" y="554.2" width="2.2" height="19.1" fill="#1e90ff"/>
<rect x="546.5" y="555.8" width="2.2" height="17.5" fill="#1e90ff"/>
<rect x="552.16" y="557" width="2.2" height="16.3" fill="#1e90ff"/>
<rect x="557.82" y="556.7" width="2.2" height="16.6" fill="#1e90ff"/>
<rect x="563.47" y="557" width="2.2" height="16.3" fill="#1e90ff"/>
<rect x="569.13" y="557" width="2.2" height="16.3" fill="#1e90ff"/>
<rect x="574.79" y="558.3" width="2.2" height="15" fill="#1e90ff"/>
<rect x="580.44" y="562" width="2.2" height="11.3" fill="#1e90ff"/>
<rect x="586.1" y="563.3" width="2.2" height="10" fill="#1e90ff"/>
<rect x="591.76" y="568.3" width="2.2" height="5" fill="#1e90ff"/>
<rect x="597.41" y="572.5" width="2.2" height="0.8" fill="#1e90ff"/>
<rect x="603.07" y="573.3" width="2.2" height="2" fill="#1e90ff"/>
<rect x="608.73" y="573.3" width="2.2" height="3.4" fill="#1e90ff"/>
<rect x="614.39" y="573.3" width="2.2" height="3.4" fill="#1e90ff"/>
<rect x="620.04" y="573.3" width="2.2" height="2.5" fill="#1e90ff"/>
<rect x="625.7" y="573.3" width="2.2" height="1.4" fill="#1e90ff"/>
<rect x="631.36" y="573.3" width="2.2" height="0.8" fill="#1e90ff"/>
<rect x="637.01" y="572.3" width="2.2" height="1" fill="#1e90ff"/>
<rect x="642.67" y="569.8" width="2.2" height="3.5" fill="#1e90ff"/>
<rect x="648.33" y="567" width="2.2" height="6.3" fill="#1e90ff"/>
<rect x="653.98" y="565" width="2.2" height="8.3" fill="#1e90ff"/>
<rect x="659.64" y="563.5" width="2.2" height="9.8" fill="#1e90ff"/>
<rect x="665.3" y="563.5" width="2.2" height="9.8" fill="#1e90ff"/>
<rect x="670.96" y="563.5" width="2.2" height="9.8" fill="#1e90ff"/>
<rect x="676.61" y="563" width="2.2" height="10.3" fill="#1e90ff"/>
<rect x="682.27" y="562" width="2.2" height="11.3" fill="#1e90ff"/>
<rect x="687.93" y="560" width="2.2" height="13.3" fill="#1e90ff"/>
<rect x="693.58" y="560.8" width="2.2" height="12.5" fill="#1e90ff"/>
<rect x="699.24" y="561.5" width="2.2" height="11.8" fill="#1e90ff"/>
<rect x="704.9" y="562.5" width="2.2" height="10.8" fill="#1e90ff"/>
<rect x="710.55" y="563.3" width="2.2" height="10" fill="#1e90ff"/>
<rect x="716.21" y="564.2" width="2.2" height="9.1" fill="#1e90ff"/>
<rect x="721.87" y="565.8" width="2.2" height="7.5" fill="#1e90ff"/>
<rect x="727.53" y="570" width="2.2" height="3.3" fill="#1e90ff"/>
<rect x="733.18" y="572.5" width="2.2" height="0.8" fill="#1e90ff"/>
<rect x="738.84" y="573.3" width="2.2" height="2" fill="#1e90ff"/>
<rect x="744.5" y="573.3" width="2.2" height="5.4" fill="#1e90ff"/>
<rect x="750.15" y="573.3" width="2.2" height="7.5" fill="#1e90ff"/>
<rect x="755.81" y="573.3" width="2.2" height="11.4" fill="#1e90ff"/>
<rect x="761.47" y="573.3" width="2.2" height="14.2" fill="#1e90ff"/>
<rect x="767.12" y="573.3" width="2.2" height="16.7" fill="#1e90ff"/>
<rect x="772.78" y="573.3" width="2.2" height="18" fill="#1e90ff"/>
<rect x="778.44" y="573.3" width="2.2" height="18" fill="#1e90ff"/>
<rect x="784.1" y="573.3" width="2.2" height="18" fill="#1e90ff"/>
<rect x="789.75" y="573.3" width="2.2" height="19.2" fill="#1e90ff"/>
<rect x="795.41" y="573.3" width="2.2" height="17" fill="#1e90ff"/>
<rect x="801.07" y="573.3" width="2.2" height="15.4" fill="#1e90ff"/>
<rect x="806.72" y="573.3" width="2.2" height="12" fill="#1e90ff"/>
<rect x="812.38" y="573.3" width="2.2" height="9.7" fill="#1e90ff"/>
<rect x="818.04" y="573.3" width="2.2" height="7" fill="#1e90ff"/>
<rect x="823.69" y="573.3" width="2.2" height="4.7" fill="#1e90ff"/>
<rect x="829.35" y="573.3" width="2.2" height="1.4" fill="#1e90ff"/>
<rect x="835.01" y="571.7" width="2.2" height="1.6" fill="#1e90ff"/>
<polyline points="-6.78,578.5 -1.13,577.2 4.53,575.34 10.19,573.65 15.84,571.96 21.5,570.83 27.16,569.81 32.81,568.79 38.47,568.18 44.13,567.56 49.79,566.88 55.44,566.37 61.1,566.09 66.76,566.12 72.41,566.36 78.07,567.13 83.73,568.92 89.39,571.23 95.04,573.97 100.7,577.13 106.36,580.28 112.01,583.33 117.67,586.54 123.33,589.84 128.98,592.96 134.64,595.42 140.3,598.02 145.96,600.9 151.61,603.49 157.27,606.36 162.93,609.07 168.58,611.51 174.24,613.59 179.9,614.92 185.55,615.48 191.21,614.73 196.87,612.3 202.53,608.8 208.18,606 213.84,603.1 219.5,598.8 225.15,595.7 230.81,592.6 236.47,590.72 242.12,588.03 247.78,585.94 253.44,584.24 259.09,582.72 264.75,581.24 270.41,580.16 276.07,579.29 281.72,578.77 287.38,578.94 293.04,579.47 298.69,580.2 304.35,581.17 310.01,582.24 315.66,583.53 321.32,585.14 326.98,587.28 332.64,589.61 338.29,591.47 343.95,592.89 349.61,593.82 355.26,594.38 360.92,594.97 366.58,595.74 372.23,596.47 377.89,597.48 383.55,599.03 389.21,601.39 394.86,604.3 400.52,607.53 406.18,610.87 411.83,614.06 417.49,616.93 423.15,619.02 428.8,619.86 434.46,619.44 440.12,617.92 445.78,615.48 451.43,612.3 457.09,607.97 462.75,602.74 468.4,596.92 474.06,591.28 479.72,585.82 485.38,580.68 491.03,575.68 496.69,571.14 502.35,567.07 508,563.99 513.66,561.58 519.32,559.62 524.97,558.01 530.63,556.77 536.29,555.84 541.94,555.2 547.6,554.82 553.26,554.71 558.92,554.68 564.57,554.9 570.23,555.27 575.89,555.86 581.54,556.86 587.2,557.92 592.86,559.49 598.51,561.34 604.17,563.38 609.83,565.6 615.49,567.79 621.14,569.88 626.8,571.7 632.46,573.03 638.11,574.03 643.77,574.2 649.43,573.59 655.08,572.44 660.74,570.98 666.4,569.51 672.06,568.14 677.71,566.84 683.37,565.51 689.03,564.14 694.68,563.14 700.34,562.53 706,562.26 711.65,562.23 717.31,562.31 722.97,562.57 728.63,563.34 734.28,564.51 739.94,566.21 745.6,568.2 751.25,570.34 756.91,572.81 762.57,575.5 768.23,578.37 773.88,581.2 779.54,583.57 785.2,585.66 790.85,587.57 796.51,588.86 802.17,589.73 807.82,589.8 813.48,589.3 819.14,588.22 824.79,586.74 830.45,584.9 836.11,582.72 841.77,580.72" fill="none" stroke="#dc143c" stroke-width="0.8" stroke-linejoin="round"/>
<rect x="0" y="627.8" width="840" height="1.4" fill="#b4b4b4"/>
<rect x="15.34" y="628" width="1" height="2" fill="#b0b0b0"/>
<rect x="60.6" y="628" width="1" height="2" fill="#b0b0b0"/>
<rect x="105.86" y="628" width="1" height="2" fill="#b0b0b0"/>
<rect x="151.11" y="628" width="1" height="2" fill="#b0b0b0"/>
<rect x="196.37" y="628" width="1" height="2" fill="#b0b0b0"/>
<rect x="241.62" y="628" width="1" height="2" fill="#b0b0b0"/>
<rect x="286.88" y="628" width="1" height="2" fill="#b0b0b0"/>
<rect x="332.14" y="628" width="1" height="2" fill="#b0b0b0"/>
<rect x="377.39" y="628" width="1" height="2" fill="#b0b0b0"/>
<rect x="422.65" y="628" width="1" height="2" fill="#b0b0b0"/>
<rect x="467.9" y="628" width="1" height="2" fill="#b0b0b0"/>
<rect x="513.16" y="628" width="1" height="2" fill="#b0b0b0"/>
<rect x="558.42" y="628" width="1" height="2" fill="#b0b0b0"/>
<rect x="603.67" y="628" width="1" height="2" fill="#b0b0b0"/>
<rect x="648.93" y="628" width="1" height="2" fill="#b0b0b0"/>
<rect x="694.18" y="628" width="1" height="2" fill="#b0b0b0"/>
<rect x="739.44" y="628" width="1" height="2" fill="#b0b0b0"/>
<rect x="784.7" y="628" width="1" height="2" fill="#b0b0b0"/>
<rect x="829.95" y="628" width="1" height="2" fill="#b0b0b0"/></svg>
</body></html>
